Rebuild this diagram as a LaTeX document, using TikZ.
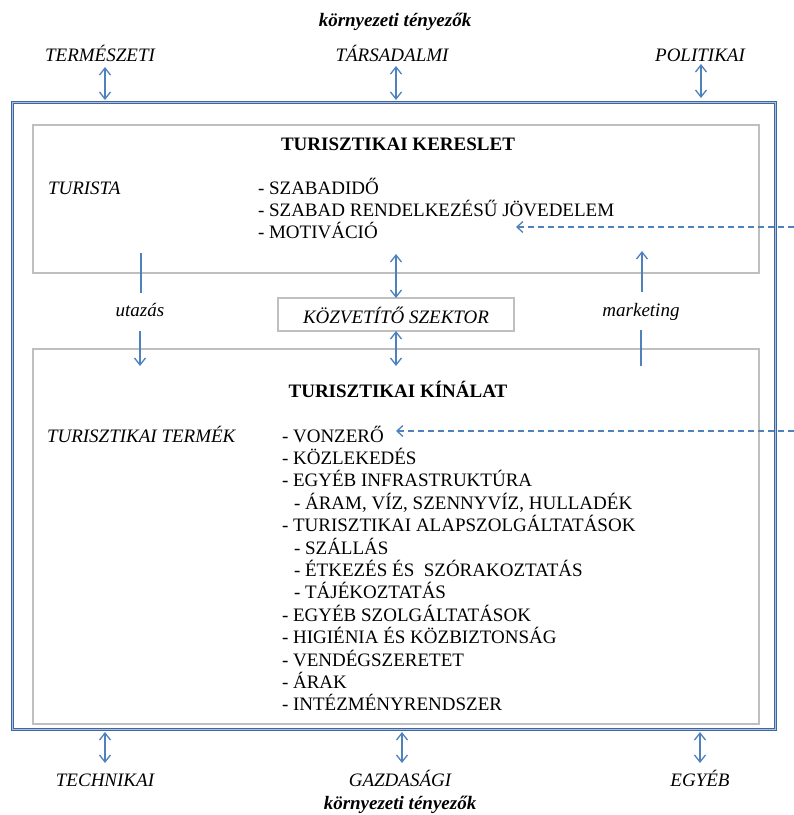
\documentclass[tikz,border=0pt]{standalone}
\usepackage{fontspec}
\setmainfont{Liberation Serif}
\usetikzlibrary{arrows.meta}
\definecolor{arrowblue}{HTML}{4F81BD}
\definecolor{frameblue}{HTML}{3E66A3}
\definecolor{framelight}{HTML}{A9C0DE}
\definecolor{boxgray}{HTML}{BFBFBF}
\begin{document}
\begin{tikzpicture}[x=1pt,y=-1pt,
  every node/.style={inner sep=0pt, outer sep=0pt},
  txt/.style={anchor=base west, font=\fontsize{19}{22}\selectfont},
  ittxt/.style={anchor=base, font=\fontsize{19}{22}\selectfont\itshape},
  bftxt/.style={anchor=base, font=\fontsize{19}{22}\selectfont\bfseries},
  heading/.style={anchor=base, font=\fontsize{19}{22}\selectfont\bfseries\itshape},
  listtxt/.style={anchor=base west, align=left},
  graybox/.style={draw=boxgray, line width=1.9pt},
  link/.style={draw=arrowblue, line width=1.3pt},
  twoway/.style={link, {Straight Barb[length=7pt,width=11pt]}-{Straight Barb[length=7pt,width=11pt]}},
  oneway/.style={link, -{Straight Barb[length=7pt,width=11pt]}},
  hint/.style={link, line width=1.3pt, dash pattern=on 6pt off 4pt, -{Straight Barb[length=6pt,width=11pt]}}]

\useasboundingbox (0,0) rectangle (794,815);

% outer system frame: thin double line
\draw[frameblue, line width=1pt, double=framelight, double distance=0.9pt]
  (12.4,102.4) rectangle (775.6,729.6);

% demand and supply boxes, intermediary sector
\draw[graybox] (33,125) rectangle (759,273);
\draw[graybox] (33,349) rectangle (759,724);
\node[graybox, minimum width=236pt, minimum height=33pt] (kozv) at (396,314.5) {};
\node[ittxt] (kozvtxt) at (396,323) {KÖZVETÍTŐ SZEKTOR};

% environmental factors
\node[heading] (envtop) at (395,26) {környezeti tényezők};
\node[ittxt] (termesz) at (100,61) {TERMÉSZETI};
\node[ittxt] (tarsad) at (392,61) {TÁRSADALMI};
\node[ittxt] (polit) at (700,61) {POLITIKAI};
\node[ittxt] (techn) at (105,786) {TECHNIKAI};
\node[ittxt] (gazd) at (400,786) {GAZDASÁGI};
\node[ittxt] (egyeb) at (700,786) {EGYÉB};
\node[heading] (envbot) at (400,809) {környezeti tényezők};

\coordinate (t1a) at (105,67);  \coordinate (t1b) at (105,100);
\coordinate (t2a) at (396,66);  \coordinate (t2b) at (396,100);
\coordinate (t3a) at (701,64);  \coordinate (t3b) at (701,98);
\coordinate (b1a) at (105,732); \coordinate (b1b) at (105,763);
\coordinate (b2a) at (402,732); \coordinate (b2b) at (402,763);
\coordinate (b3a) at (700,732); \coordinate (b3b) at (700,763);
\draw[twoway] (t1a) -- (t1b);
\draw[twoway] (t2a) -- (t2b);
\draw[twoway] (t3a) -- (t3b);
\draw[twoway] (b1a) -- (b1b);
\draw[twoway] (b2a) -- (b2b);
\draw[twoway] (b3a) -- (b3b);

% demand side (multi-line nodes sit on the baseline of their last line)
\node[bftxt] (kereslet) at (398,150) {TURISZTIKAI KERESLET};
\node[txt, font=\fontsize{19}{22}\selectfont\itshape] (turista) at (48,194) {TURISTA};
\node[listtxt, font=\fontsize{19}{22}\selectfont] (kerlist) at (258,238)
  {- SZABADIDŐ\\- SZABAD RENDELKEZÉSŰ JÖVEDELEM\\- MOTIVÁCIÓ};

% supply side
\node[bftxt] (kinalat) at (398,397) {TURISZTIKAI KÍNÁLAT};
\node[txt, font=\fontsize{19}{22}\selectfont\itshape] (termek) at (47,442) {TURISZTIKAI TERMÉK};
\node[listtxt, font=\fontsize{19}{22.4}\selectfont] (kinlist) at (282,710.8)
  {- VONZERŐ\\- KÖZLEKEDÉS\\- EGYÉB INFRASTRUKTÚRA\\
   \hspace*{12pt}- ÁRAM, VÍZ, SZENNYVÍZ, HULLADÉK\\- TURISZTIKAI ALAPSZOLGÁLTATÁSOK\\
   \hspace*{12pt}- SZÁLLÁS\\\hspace*{12pt}- ÉTKEZÉS ÉS\ \ SZÓRAKOZTATÁS\\\hspace*{12pt}- TÁJÉKOZTATÁS\\
   - EGYÉB SZOLGÁLTATÁSOK\\- HIGIÉNIA ÉS KÖZBIZTONSÁG\\- VENDÉGSZERETET\\- ÁRAK\\- INTÉZMÉNYRENDSZER};

% flows between demand and supply
\node[ittxt] (utazas) at (140,316) {utazás};
\node[ittxt] (marketing) at (641,316) {marketing};
\coordinate (u1) at (141,253); \coordinate (u2) at (141,293);
\coordinate (u3) at (140,331); \coordinate (u4) at (140,366);
\draw[link] (u1) -- (u2);
\draw[oneway] (u3) -- (u4);
\coordinate (m1) at (641,366); \coordinate (m2) at (641,330);
\coordinate (m3) at (642,292); \coordinate (m4) at (642,251);
\draw[link] (m1) -- (m2);
\draw[oneway] (m3) -- (m4);
\coordinate (k1) at (396,254); \coordinate (k2) at (396,366);
\draw[twoway] (k1) -- (kozv.north);
\draw[twoway] (kozv.south) -- (k2);

% external influences entering from the right
\coordinate (in1) at (794,227);
\coordinate (in2) at (794,431);
\draw[hint] (in1) -- (516,227);
\draw[hint] (in2) -- (396,431);
\end{tikzpicture}
\end{document}
